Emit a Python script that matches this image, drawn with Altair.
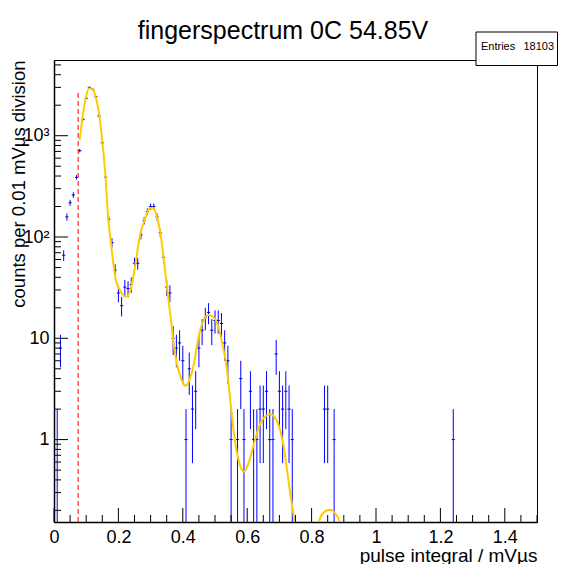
import altair as alt
import pandas as pd
import numpy as np

FONT = "Liberation Sans"

# ---------------- data ----------------
# histogram bins (bin width 0.01 mV*us); centre = index * 0.01
bin_index = [1, 2, 3, 4, 5, 6, 7, 8, 9, 10, 11, 12, 13, 14, 15, 16, 17, 18, 19, 20,
             21, 22, 23, 24, 25, 26, 27, 28, 29, 30, 31, 32, 33, 34, 35, 36, 37, 38, 39, 40,
             41, 42, 43, 44, 45, 46, 47, 48, 49, 50, 51, 52, 53, 54, 55, 57, 58, 59, 61, 62,
             63, 64, 65, 66, 67, 68, 69, 70, 71, 72, 73, 74, 84, 85, 87, 124]
counts = [1, 8, 66, 158, 218, 260, 388, 711, 1450, 2340, 3000, 2870, 2430, 1565, 850, 390, 150, 88, 47, 28,
          21, 32, 31, 34, 55, 55, 105, 145, 178, 200, 200, 158, 110, 63, 32, 28, 10, 8, 9, 6,
          1, 5, 2, 3, 8, 12, 16, 18, 12, 15, 15, 14, 9, 6, 1, 1, 4, 1, 3, 1,
          1, 2, 2, 3, 1, 1, 7, 3, 2, 3, 2, 1, 2, 2, 1, 1]

# fit curve (read point by point)
fit_x = [0.0797, 0.0881, 0.0984, 0.1088, 0.1213, 0.1319, 0.1422, 0.1506, 0.1600, 0.1681,
         0.1775, 0.1859, 0.1922, 0.2047, 0.2141, 0.2234, 0.2359, 0.2516, 0.2672, 0.2828,
         0.2984, 0.3088, 0.3194, 0.3297, 0.3400, 0.3506, 0.3588, 0.3641, 0.3713, 0.3766,
         0.3819, 0.3900, 0.3975, 0.4056, 0.4125, 0.4181, 0.4338, 0.4494, 0.4650, 0.4806,
         0.4944, 0.5069, 0.5225, 0.5359, 0.5484, 0.5588, 0.5744, 0.5900, 0.6056, 0.6213,
         0.6369, 0.6547, 0.6713, 0.6838, 0.6994, 0.7150, 0.7306, 0.7463, 0.7547, 0.8109,
         0.8213, 0.8359, 0.8525, 0.8609, 0.8734, 0.8869, 0.8984]
fit_y = [907, 1485, 2340, 2940, 2825, 2252, 1485, 841, 394, 156,
         83.4, 50.2, 37.6, 30.0, 26.8, 25.7, 28.8, 50.9, 104.6, 153,
         192, 192, 159, 113, 63.9, 32.3, 19.9, 14.5, 8.99, 7.0,
         5.58, 4.44, 3.79, 3.42, 3.46, 3.73, 5.45, 10.4, 15.2, 17.0,
         16.3, 14.1, 8.93, 5.24, 2.28, 1.154, 0.605, 0.482, 0.605, 0.919,
         1.341, 1.683, 1.777, 1.683, 1.341, 0.789, 0.343, 0.161, 0.102, 0.102,
         0.150, 0.1886, 0.2018, 0.2018, 0.186, 0.1553, 0.102]

cut_x = [0.075]
cut_top = [2750]

x_major_ticks = [0.0, 0.2, 0.4, 0.6, 0.8, 1.0, 1.2, 1.4]
x_minor_ticks = [0.05, 0.1, 0.15, 0.25, 0.3, 0.35, 0.45, 0.5, 0.55, 0.65, 0.7, 0.75,
                 0.85, 0.9, 0.95, 1.05, 1.1, 1.15, 1.25, 1.3, 1.35, 1.45, 1.5]
y_major_ticks = [1, 10, 100, 1000]
y_minor_ticks = [0.2, 0.3, 0.4, 0.5, 0.6, 0.7, 0.8, 0.9,
                 2, 3, 4, 5, 6, 7, 8, 9,
                 20, 30, 40, 50, 60, 70, 80, 90,
                 200, 300, 400, 500, 600, 700, 800, 900,
                 2000, 3000, 4000, 5000]

title_text = ["fingerspectrum 0C 54.85V"]
stats_label = ["Entries"]
stats_value = ["18103"]

# ---------------- chart ----------------
W, H = 483, 462
Y_LO, Y_HI = 0.1536, 5590
xs = alt.Scale(domain=[0, 1.5], nice=False, zero=False)
ys = alt.Scale(type="log", domain=[Y_LO, Y_HI], nice=False)

hist = pd.DataFrame({"i": bin_index, "n": counts})
hist["x"] = hist["i"] * 0.01
hist["xl"] = hist["x"] - 0.005
hist["xr"] = hist["x"] + 0.005
err = np.sqrt(hist["n"])
hist["lo"] = np.maximum(hist["n"] - err, 0.01)
hist["hi"] = hist["n"] + err

x_axis = alt.Axis(values=x_major_ticks, format="~g", labelFont=FONT, labelFontSize=18,
                  labelPadding=6, labelColor="black", labelFlush=False, labelOverlap=False,
                  ticks=True, tickSize=0, tickOpacity=0, grid=False,
                  domain=True, domainColor="black", domainWidth=1.5,
                  title="pulse integral / mVµs", titleFont=FONT, titleFontSize=19,
                  titleFontWeight="normal", titleColor="black",
                  titleX=W, titleY=39, titleAlign="right", titleBaseline="alphabetic")

y_axis = alt.Axis(values=y_major_ticks,
                  labelExpr="datum.value == 100 ? '10²' : (datum.value == 1000 ? '10³' : format(datum.value, 'd'))",
                  labelFont=FONT, labelFontSize=18, labelPadding=5, labelColor="black",
                  labelOverlap=False, labelFlush=False,
                  ticks=True, tickSize=0, tickOpacity=0, grid=False,
                  domain=True, domainColor="black", domainWidth=1.5,
                  title="counts per 0.01 mVµs division", titleFont=FONT, titleFontSize=18.5,
                  titleFontWeight="normal", titleColor="black", titleAngle=270,
                  titleX=-36, titleY=0, titleAlign="right", titleBaseline="middle")

bars = alt.Chart(hist).mark_rule(color="#0000ff", strokeWidth=1, clip=True).encode(
    x=alt.X("x:Q", scale=xs, axis=x_axis),
    y=alt.Y("lo:Q", scale=ys, axis=y_axis),
    y2="hi:Q",
)
markers = alt.Chart(hist).mark_rule(color="#0000cc", strokeWidth=1, clip=True).encode(
    x=alt.X("xl:Q", scale=xs, axis=x_axis),
    x2="xr:Q",
    y=alt.Y("n:Q", scale=ys, axis=y_axis),
)
fit = alt.Chart(pd.DataFrame({"fx": fit_x, "fy": fit_y})).mark_line(
    color="#ffcc00", strokeWidth=2, clip=True, interpolate="monotone").encode(
    x=alt.X("fx:Q", scale=xs, axis=x_axis),
    y=alt.Y("fy:Q", scale=ys, axis=y_axis),
)
cut = alt.Chart(pd.DataFrame({"cx": cut_x, "ctop": cut_top, "cbot": [Y_LO]})).mark_rule(
    color="#ff0000", strokeWidth=1, strokeDash=[5, 3]).encode(
    x=alt.X("cx:Q", scale=xs, axis=x_axis),
    y=alt.Y("cbot:Q", scale=ys, axis=y_axis),
    y2="ctop:Q",
)

xmaj = alt.Chart(pd.DataFrame({"v": x_major_ticks})).mark_rule(color="black", strokeWidth=1).encode(
    x=alt.X("v:Q", scale=xs, axis=x_axis), y=alt.value(H), y2=alt.value(H - 14))
xmin = alt.Chart(pd.DataFrame({"v": x_minor_ticks})).mark_rule(color="black", strokeWidth=1).encode(
    x=alt.X("v:Q", scale=xs, axis=x_axis), y=alt.value(H), y2=alt.value(H - 7))
ymaj = alt.Chart(pd.DataFrame({"v": y_major_ticks})).mark_rule(color="black", strokeWidth=1).encode(
    y=alt.Y("v:Q", scale=ys, axis=y_axis), x=alt.value(0), x2=alt.value(14))
ymin = alt.Chart(pd.DataFrame({"v": y_minor_ticks})).mark_rule(color="black", strokeWidth=1).encode(
    y=alt.Y("v:Q", scale=ys, axis=y_axis), x=alt.value(0), x2=alt.value(7))

stats_df = pd.DataFrame({"label": stats_label, "value": stats_value})
stats_box = alt.Chart(stats_df).mark_rect(fill="white", stroke="black", strokeWidth=1).encode(
    x=alt.value(422), x2=alt.value(503.5), y=alt.value(-28), y2=alt.value(5.5))
stats_l = alt.Chart(stats_df).mark_text(align="left", baseline="middle", font=FONT,
                                        fontSize=11, color="black").encode(
    x=alt.value(427), y=alt.value(-13), text="label:N")
stats_v = alt.Chart(stats_df).mark_text(align="right", baseline="middle", font=FONT,
                                        fontSize=11, color="black").encode(
    x=alt.value(500), y=alt.value(-13), text="value:N")

title = alt.Chart(pd.DataFrame({"t": title_text})).mark_text(
    align="center", baseline="alphabetic", font=FONT, fontSize=25, color="black").encode(
    x=alt.value(229), y=alt.value(-21), text="t:N")

chart = alt.layer(
    bars, markers, fit, cut, xmaj, xmin, ymaj, ymin, stats_box, stats_l, stats_v, title
).properties(
    width=W, height=H,
    autosize=alt.AutoSizeParams(type="none"),
    padding={"left": 46, "top": 52, "right": 21, "bottom": 42},
    background="white",
).configure_view(stroke="black", strokeWidth=1)

chart.save("out.html", embed_options={"renderer": "svg", "actions": False})
